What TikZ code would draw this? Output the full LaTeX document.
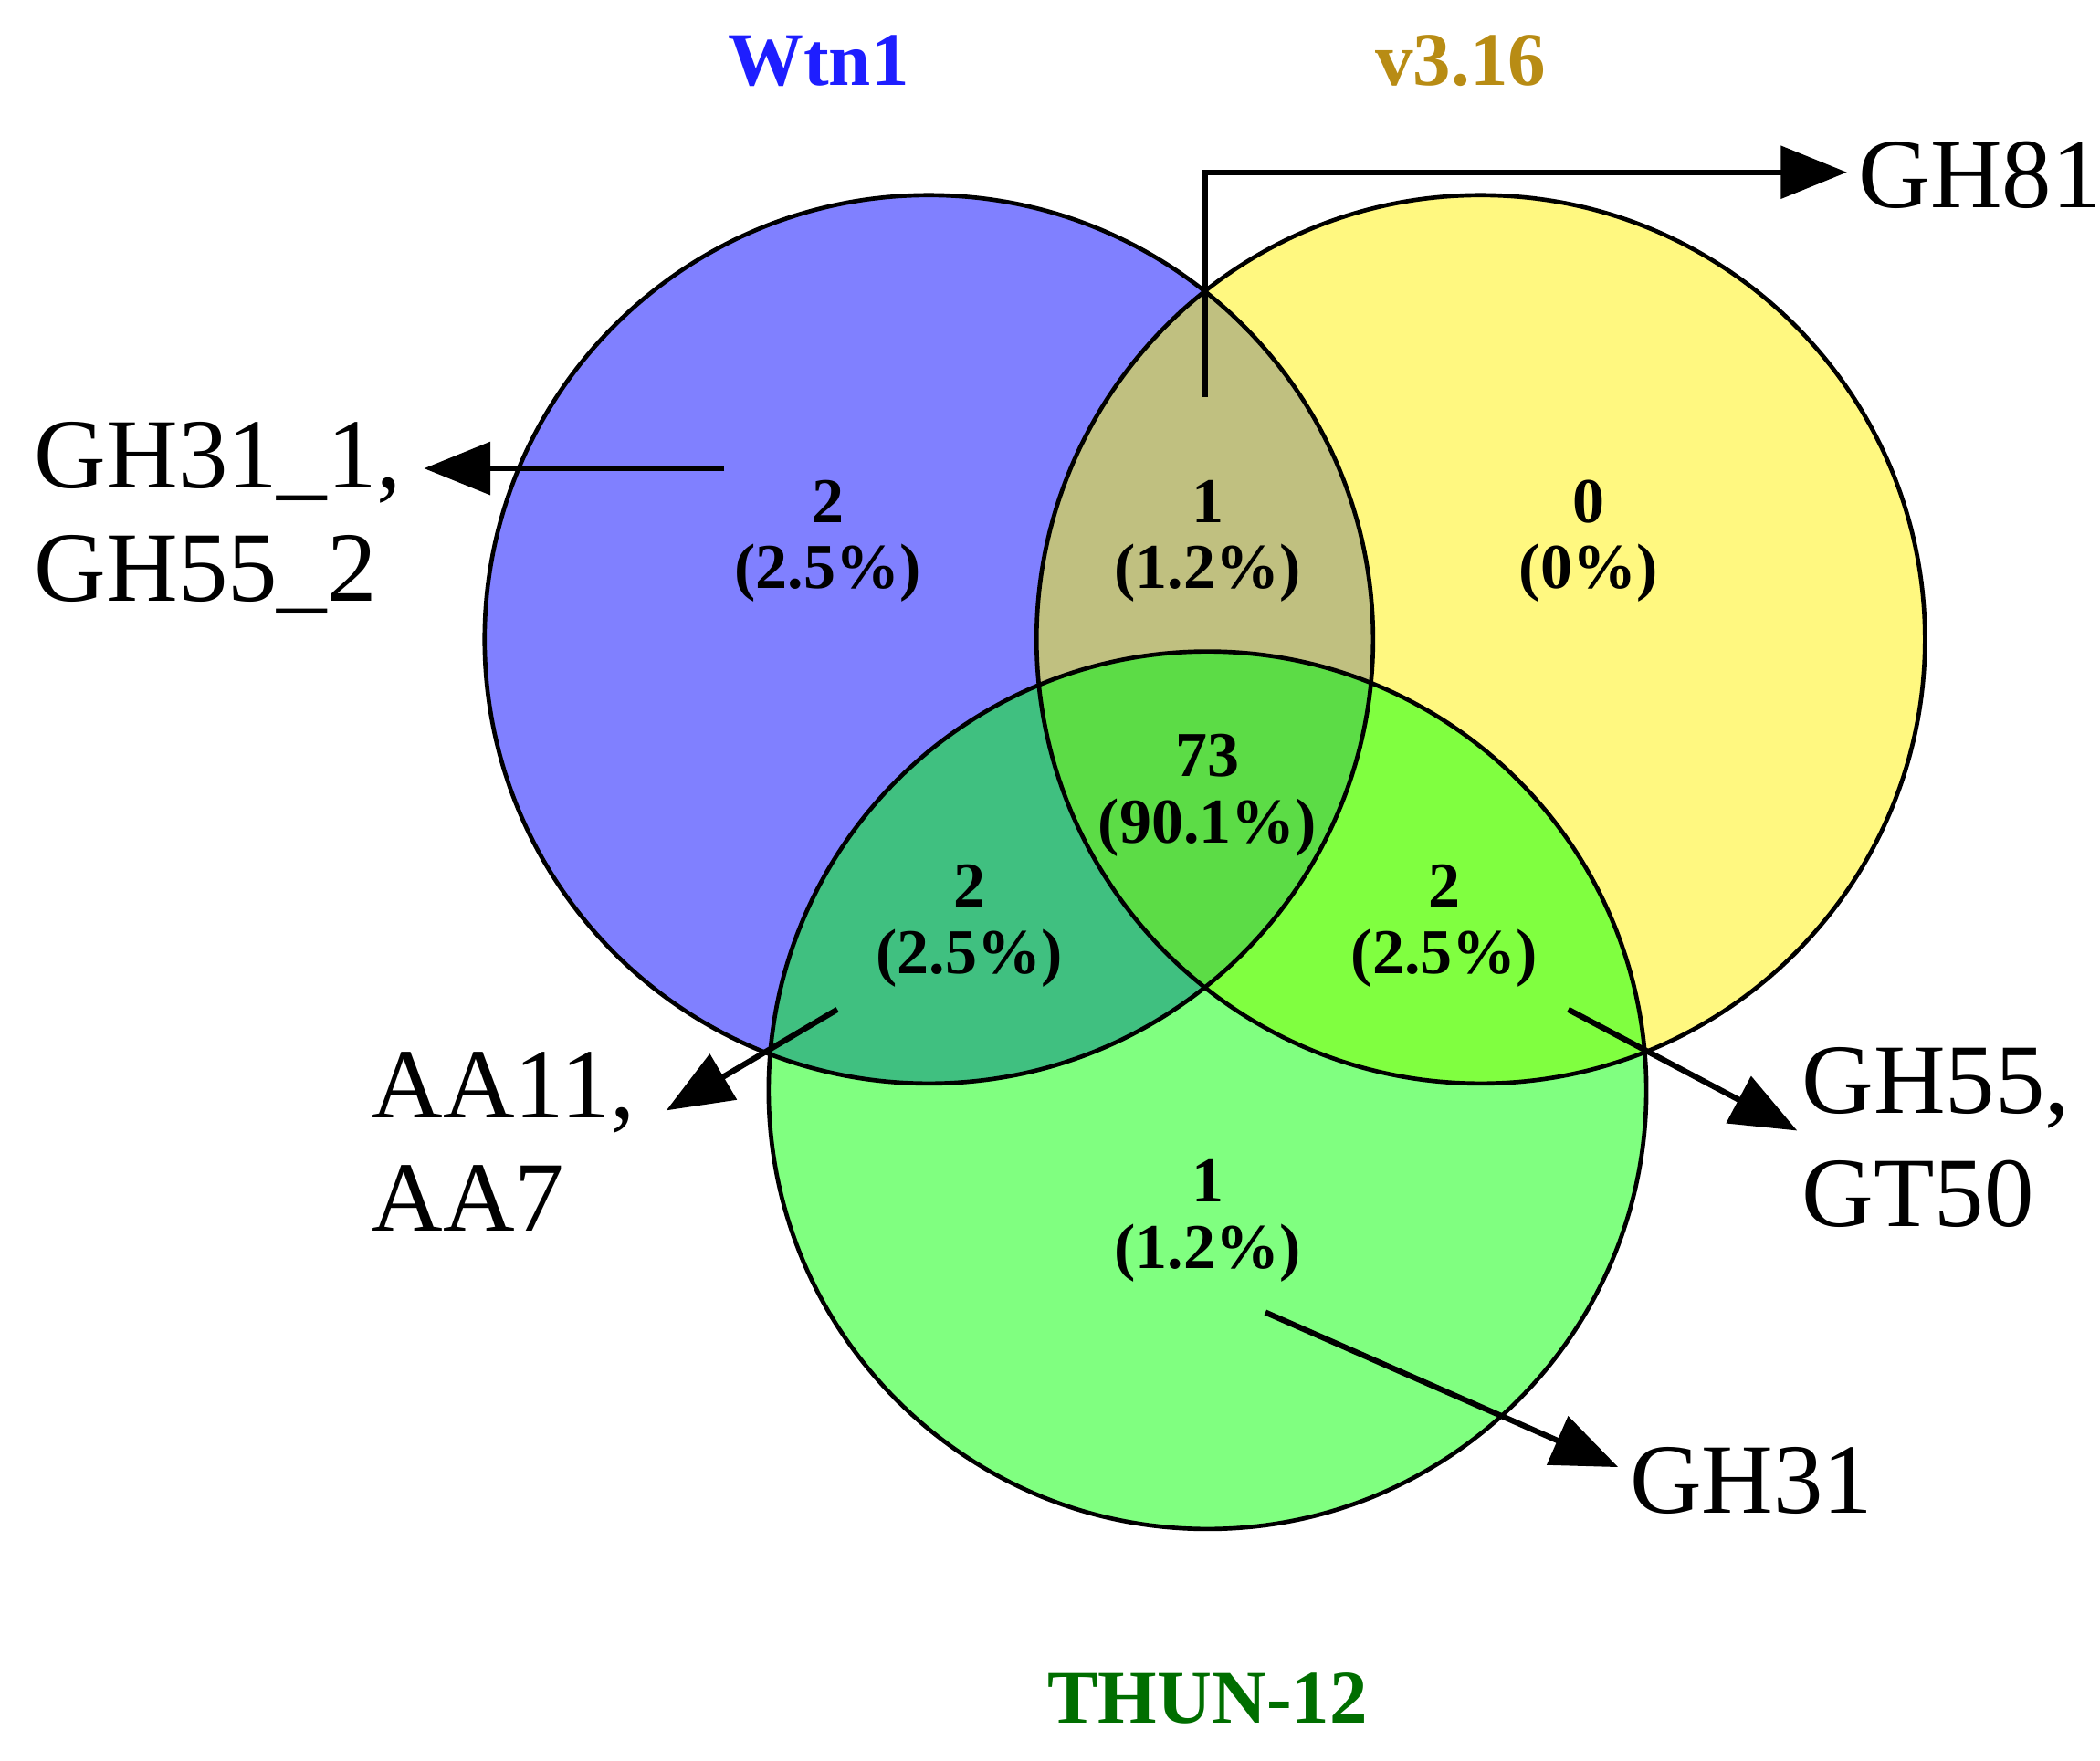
\documentclass[tikz,border=0pt]{standalone}
\usepackage{fontspec}
\usetikzlibrary{arrows.meta}
\setmainfont{Liberation Serif}
\begin{document}
\begin{tikzpicture}[x=0.01cm,y=-0.01cm,
  num/.style={font=\bfseries\fontsize{13.5}{14}\selectfont,align=center,inner sep=0pt},
  lab/.style={font=\fontsize{21}{24}\selectfont,align=left,inner sep=0pt},
  ttl/.style={font=\bfseries\fontsize{16}{16}\selectfont,inner sep=0pt},
  arr/.style={line width=1.2pt,arrows={-Triangle[length=14pt,width=11pt]}},
  circ/.style={line width=0.9pt}]
\useasboundingbox (0,0) rectangle (1560,1308);
\def\A{(690,475) circle (330)}
\def\B{(1100,475) circle (330)}
\def\C{(897,810) circle (326)}
\fill[blue!50] \A; \fill[yellow!50] \B; \fill[green!50] \C;
\begin{scope}\clip \A; \fill[fill={rgb,255:red,192;green,192;blue,128}] \B; \end{scope}
\begin{scope}\clip \A; \fill[fill={rgb,255:red,64;green,192;blue,128}] \C; \end{scope}
\begin{scope}\clip \B; \fill[fill={rgb,255:red,128;green,255;blue,64}] \C; \end{scope}
\begin{scope}\clip \A; \clip \B; \fill[fill={rgb,255:red,92;green,220;blue,70}] \C; \end{scope}
\draw[circ] \A; \draw[circ] \B; \draw[circ] \C;
\node[ttl,text={rgb,255:red,30;green,30;blue,255}] (t1) at (608,45) {Wtn1};
\node[ttl,text={rgb,255:red,184;green,140;blue,20}] (t2) at (1085,45) {v3.16};
\node[ttl,text={rgb,255:red,0;green,110;blue,0}] (t3) at (897,1262) {THUN-12};
\node[num] (n1) at (615,402) {2\\(2.5\%)};
\node[num] (n2) at (897,402) {1\\(1.2\%)};
\node[num] (n3) at (1180,402) {0\\(0\%)};
\node[num] (n4) at (897,591) {73\\(90.1\%)};
\node[num] (n5) at (720,688) {2\\(2.5\%)};
\node[num] (n6) at (1073,688) {2\\(2.5\%)};
\node[num] (n7) at (897,907) {1\\(1.2\%)};
\node[lab,anchor=west] (gh81) at (1380,130) {GH81};
\node[lab,anchor=west] (gh311) at (25,385) {GH31\_1,\\GH55\_2};
\node[lab,anchor=west] (aa) at (275,848) {AA11,\\AA7};
\node[lab,anchor=west] (gh55) at (1338,845) {GH55,\\GT50};
\node[lab,anchor=west] (gh31) at (1210,1100) {GH31};
\coordinate (s1) at (895,295); \coordinate (b1) at (895,128); \coordinate (e1) at (1372,128);
\draw[arr] (s1) -- (b1) -- (e1);
\coordinate (s2) at (538,348); \coordinate (e2) at (315,348);
\draw[arr] (s2) -- (e2);
\coordinate (s3) at (622,750); \coordinate (e3) at (495,825);
\draw[arr] (s3) -- (e3);
\coordinate (s4) at (1165,750); \coordinate (e4) at (1335,840);
\draw[arr] (s4) -- (e4);
\coordinate (s5) at (940,975); \coordinate (e5) at (1202,1090);
\draw[arr] (s5) -- (e5);
\end{tikzpicture}
\end{document}
